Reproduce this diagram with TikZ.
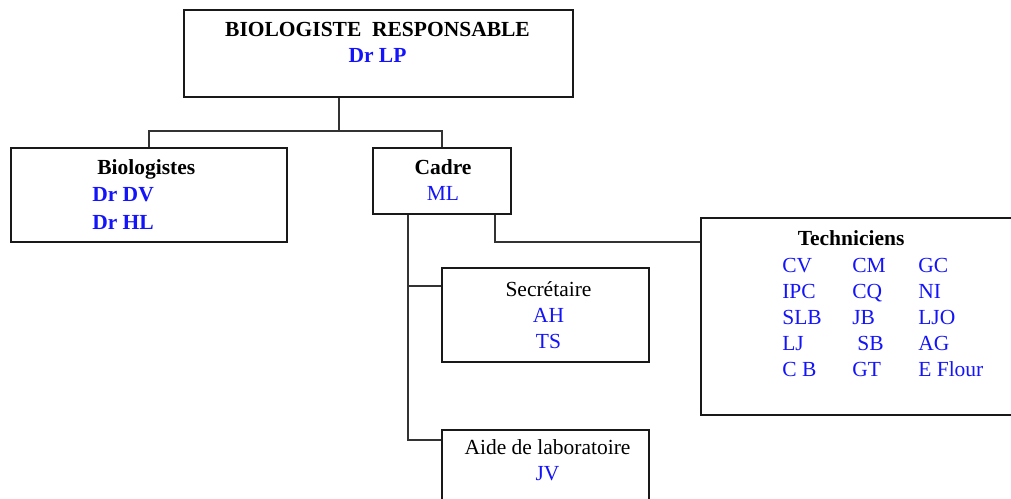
\documentclass[tikz,border=0pt]{standalone}
\usepackage{fontspec}
\setmainfont{Liberation Serif}
\usepackage{xcolor}
\usepackage{tikz}
\usetikzlibrary{positioning}
\definecolor{namblau}{RGB}{20,20,250}
\newcommand{\nam}[1]{\textcolor{namblau}{#1}}
\tikzset{
  Kasten/.style={draw=black!90, line width=1.8pt, inner sep=0pt}, % Rahmen
  Text/.style={inner sep=0pt, anchor=base, font=\fontsize{21.5}{26}\selectfont}, % Beschriftung
  Linie/.style={draw=black!80, line width=1.5pt} % Verbindungen
}

\begin{document}
\begin{tikzpicture}[x=1pt,y=1pt]
\useasboundingbox (0,0) rectangle (1011,498);

%Kaesten
\node[Kasten, minimum width=389, minimum height=87] (resp) at (378.5,444.5) {};
\node[Kasten, minimum width=276, minimum height=94] (bio) at (149,303) {};
\node[Kasten, minimum width=138, minimum height=66] (cadre) at (442,317) {};
\node[Kasten, minimum width=324, minimum height=197] (tech) at (863,181.5) {};
\node[Kasten, minimum width=207, minimum height=94] (secr) at (545.5,183) {};
\node[Kasten, minimum width=207, minimum height=80] (aide) at (545.5,28) {};

%Beschriftungen
\node[Text] (respT) at ([xshift=-1pt,yshift=-27pt]resp.north)
  {\begin{tabular}[t]{@{}c@{}}\textbf{BIOLOGISTE\ \ RESPONSABLE}\\ \nam{\textbf{Dr LP}}\end{tabular}};
\node[Text, anchor=base west] (bioT) at ([xshift=82pt,yshift=-27pt]bio.north west)
  {\begin{tabular}[t]{@{}l@{}}\hspace{5pt}\textbf{Biologistes}\\[1.5pt] \nam{\textbf{Dr DV}}\\[1.5pt] \nam{\textbf{Dr HL}}\end{tabular}};
\node[Text] (cadreT) at ([xshift=1pt,yshift=-27pt]cadre.north)
  {\begin{tabular}[t]{@{}c@{}}\textbf{Cadre}\\ \nam{ML}\end{tabular}};
\node[Text] (secrT) at ([xshift=3pt,yshift=-29pt]secr.north)
  {\begin{tabular}[t]{@{}c@{}}Secrétaire\\ \nam{AH}\\ \nam{TS}\end{tabular}};
\node[Text] (aideT) at ([xshift=2pt,yshift=-25pt]aide.north)
  {\begin{tabular}[t]{@{}c@{}}Aide de laboratoire\\ \nam{JV}\end{tabular}};
\node[Text] (techT) at ([xshift=151pt,yshift=-28pt]tech.north west) {\textbf{Techniciens}};
\node[Text, anchor=base west] (techN) at ([xshift=82pt,yshift=-55pt]tech.north west)
  {\color{namblau}\begin{tabular}[t]{@{}p{70pt}@{}p{66pt}@{}l@{}}
  CV & CM & GC\\
  IPC & CQ & NI\\
  SLB & JB & LJO\\
  LJ & \hspace{5pt}SB & AG\\
  C B & GT & E Flour
  \end{tabular}};

%Verbindungen
\coordinate (respA) at ([xshift=-39.5pt]resp.south);
\coordinate (bus) at ([yshift=-33pt]respA);
\draw[Linie] (respA) -- (bus);
\draw[Linie] (bio.north) |- (bus) -| (cadre.north);

\coordinate (cadreL) at ([xshift=-34pt]cadre.south);
\coordinate (secrE) at ([yshift=-19pt]secr.north west);
\coordinate (aideE) at ([yshift=-11pt]aide.north west);
\draw[Linie] (cadreL) |- (aideE);
\draw[Linie] (cadreL |- secrE) -- (secrE);

\coordinate (cadreR) at ([xshift=53pt]cadre.south);
\coordinate (techE) at ([yshift=-25pt]tech.north west);
\draw[Linie] (cadreR) |- (techE);

\end{tikzpicture}
\end{document}
